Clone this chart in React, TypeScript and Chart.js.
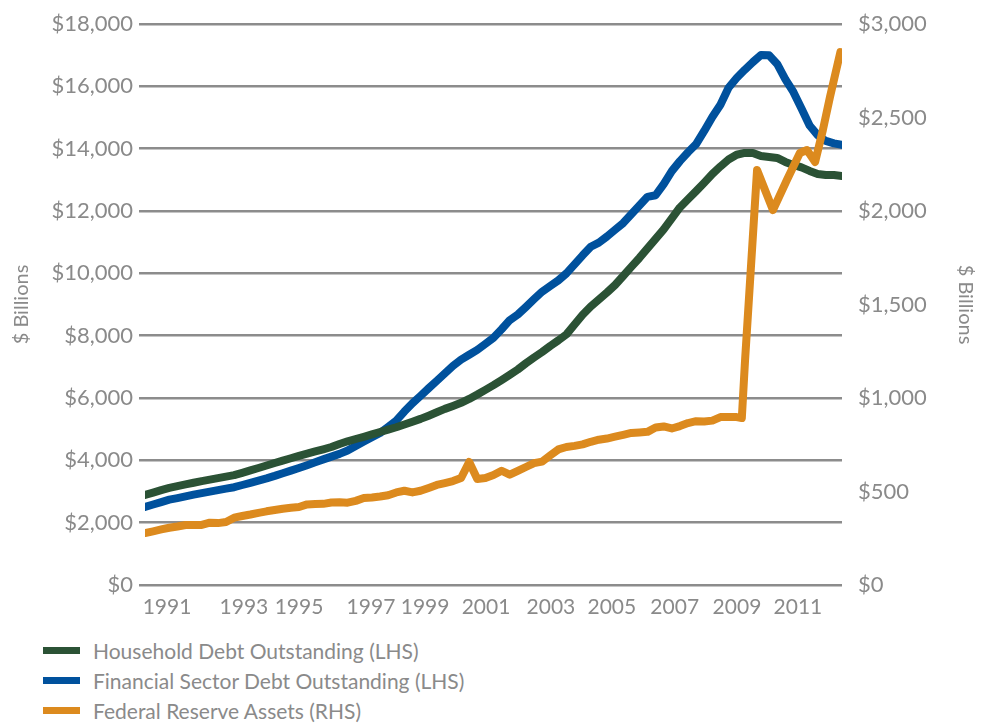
import React, { useEffect, useRef } from 'react';
import { Chart, registerables } from 'chart.js';

Chart.register(...registerables);

const FONT = 'Lato, "Open Sans", sans-serif';
const GREY = '#8a8a8a';

const START_YEAR = 1990;

// Household Debt Outstanding, $ billions, quarterly from 1990 Q1 (LHS)
const householdDebt = [
  2890, 2965, 3045, 3116, 3174, 3228, 3280, 3334, 3382, 3430,
  3479, 3524, 3600, 3678, 3755, 3835, 3915, 3989, 4066, 4143,
  4213, 4284, 4355, 4428, 4525, 4611, 4685, 4756, 4833, 4910,
  4987, 5061, 5150, 5240, 5330, 5433, 5542, 5651, 5747, 5847,
  5969, 6110, 6261, 6412, 6575, 6742, 6915, 7114, 7300, 7477,
  7670, 7849, 8042, 8356, 8671, 8937, 9162, 9386, 9627, 9916,
  10205, 10493, 10798, 11103, 11408, 11761, 12114, 12377, 12637, 12907,
  13189, 13430, 13651, 13805, 13863, 13863, 13767, 13735, 13702, 13574,
  13478, 13398, 13285, 13189, 13157, 13157, 13125,
];

// Financial Sector Debt Outstanding, $ billions, quarterly from 1990 Q1 (LHS)
const financialDebt = [
  2503, 2583, 2660, 2737, 2789, 2843, 2898, 2949, 2997, 3045,
  3093, 3138, 3209, 3280, 3350, 3421, 3501, 3588, 3671, 3755,
  3844, 3937, 4031, 4120, 4207, 4313, 4457, 4602, 4740, 4878,
  5073, 5272, 5564, 5834, 6068, 6312, 6550, 6790, 7031, 7230,
  7387, 7544, 7737, 7933, 8205, 8497, 8680, 8921, 9171, 9412,
  9595, 9775, 9999, 10288, 10577, 10853, 10985, 11183, 11398, 11613,
  11896, 12178, 12454, 12505, 12862, 13279, 13600, 13885, 14145, 14569,
  15018, 15410, 15955, 16266, 16530, 16777, 17004, 16998, 16719, 16234,
  15820, 15291, 14742, 14434, 14248, 14168, 14120,
];

const quarterDates = householdDebt.map((_, i) => START_YEAR + i / 4);

// Federal Reserve Assets, $ billions (RHS): quarterly to 2008 Q2, then finer points
const fedQuarterly = [
  278, 287, 297, 306, 313, 321, 321, 321, 333, 331,
  337, 360, 369, 377, 386, 394, 401, 408, 413, 417,
  431, 433, 434, 441, 442, 440, 450, 465, 468, 473,
  480, 495, 504, 495, 504, 519, 535, 545, 556, 572,
  658, 567, 572, 588, 611, 590, 610, 631, 652, 660,
  693, 725, 738, 744, 752, 766, 777, 783, 793, 803,
  813, 816, 819, 842, 848, 837, 850, 866, 876, 874,
  879, 898, 898, 898,
];
const fedCrisisDates = [2008.41, 2008.51, 2008.88, 2009.37, 2009.8, 2010.2, 2010.42, 2010.67, 2010.91, 2011.13, 2011.45];
const fedCrisisValues = [893, 1203, 2219, 2005, 2166, 2310, 2326, 2262, 2433, 2610, 2850];

const fedDates = [...fedQuarterly.map((_, i) => START_YEAR + i / 4), ...fedCrisisDates];
const fedAssets = [...fedQuarterly, ...fedCrisisValues];

// Axis labels (as placed in the source chart)
const xTickLabels = ['1991', '1993', '1995', '1997', '1999', '2001', '2003', '2005', '2007', '2009', '2011'];
const xTickDates = [1990.68, 1993.05, 1994.75, 1996.97, 1998.64, 2000.52, 2002.52, 2004.4, 2006.34, 2008.26, 2010.14];

const seriesNames = [
  'Household Debt Outstanding (LHS)',
  'Financial Sector Debt Outstanding (LHS)',
  'Federal Reserve Assets (RHS)',
];
const seriesColors = ['#2b5235', '#00519d', '#dc8a1e'];

const X_MIN = 1990;
const X_MAX = 2011.5;

const toXY = (xs: number[], ys: number[]) => ys.map((y, i) => ({ x: xs[i], y }));

export default function App() {
  const ref = useRef<HTMLCanvasElement>(null);

  useEffect(() => {
    const canvas = ref.current;
    if (!canvas) return;
    const chart = new Chart(canvas, {
      type: 'line',
      data: {
        datasets: [
          {
            label: seriesNames[2],
            data: toXY(fedDates, fedAssets),
            borderColor: seriesColors[2],
            backgroundColor: seriesColors[2],
            yAxisID: 'y1',
            order: 0,
          },
          {
            label: seriesNames[0],
            data: toXY(quarterDates, householdDebt),
            borderColor: seriesColors[0],
            backgroundColor: seriesColors[0],
            yAxisID: 'y',
            order: 1,
          },
          {
            label: seriesNames[1],
            data: toXY(quarterDates, financialDebt),
            borderColor: seriesColors[1],
            backgroundColor: seriesColors[1],
            yAxisID: 'y',
            order: 2,
          },
        ],
      },
      options: {
        responsive: false,
        animation: false,
        devicePixelRatio: 1,
        layout: { padding: { top: 16, left: 0, right: 0, bottom: 0 } },
        elements: {
          line: { borderWidth: 8, borderCapStyle: 'round', borderJoinStyle: 'round', tension: 0 },
          point: { radius: 0, hoverRadius: 0 },
        },
        plugins: {
          legend: { display: false },
          tooltip: { enabled: false },
        },
        scales: {
          x: {
            type: 'linear',
            min: X_MIN,
            max: X_MAX,
            grid: { display: false, drawTicks: false },
            border: { display: false },
            afterBuildTicks: (scale: any) => {
              scale.ticks = xTickDates.map((v) => ({ value: v }));
            },
            afterFit: (scale: any) => {
              scale.height = 43;
              scale.paddingLeft = 0;
              scale.paddingRight = 0;
            },
            ticks: {
              autoSkip: false,
              maxRotation: 0,
              minRotation: 0,
              padding: 10,
              color: GREY,
              font: { family: FONT, size: 21 },
              callback: (value: any) => {
                const idx = xTickDates.indexOf(Number(value));
                return idx >= 0 ? xTickLabels[idx] : '';
              },
            },
          },
          y: {
            position: 'left',
            min: 0,
            max: 18000,
            grid: { color: '#8c8c8c', lineWidth: 2.5, drawTicks: true, tickLength: 6 },
            border: { display: false },
            afterFit: (scale: any) => {
              scale.width = 137;
              scale.paddingTop = 0;
              scale.paddingBottom = 0;
            },
            ticks: {
              stepSize: 2000,
              padding: 6,
              color: GREY,
              font: { family: FONT, size: 22 },
              callback: (v: any) => '$' + Number(v).toLocaleString('en-US'),
            },
            title: {
              display: true,
              text: '$ Billions',
              color: GREY,
              font: { family: FONT, size: 20 },
              padding: { top: 2, bottom: 0 },
            },
          },
          y1: {
            position: 'right',
            min: 0,
            max: 3000,
            grid: { display: false, drawTicks: false },
            border: { display: false },
            afterFit: (scale: any) => {
              scale.width = 140;
              scale.paddingTop = 0;
              scale.paddingBottom = 0;
            },
            ticks: {
              stepSize: 500,
              padding: 16,
              color: GREY,
              font: { family: FONT, size: 22 },
              callback: (v: any) => '$' + Number(v).toLocaleString('en-US'),
            },
            title: {
              display: true,
              text: '$ Billions',
              color: GREY,
              font: { family: FONT, size: 20 },
              padding: { top: 5, bottom: 0 },
            },
          },
        },
      },
    } as any);
    return () => chart.destroy();
  }, []);

  return (
    <div style={{ fontFamily: FONT }}>
      <canvas ref={ref} width={974} height={620} style={{ display: 'block', width: 974, height: 620 }} />
      <div style={{ marginTop: 7, marginLeft: 35 }}>
        {seriesNames.map((name, i) => (
          <div key={name} style={{ display: 'flex', alignItems: 'center', height: 30 }}>
            <div style={{ width: 37, height: 7, background: seriesColors[i], marginRight: 13 }} />
            <span style={{ fontSize: 21, color: GREY, whiteSpace: 'nowrap' }}>{name}</span>
          </div>
        ))}
      </div>
    </div>
  );
}
